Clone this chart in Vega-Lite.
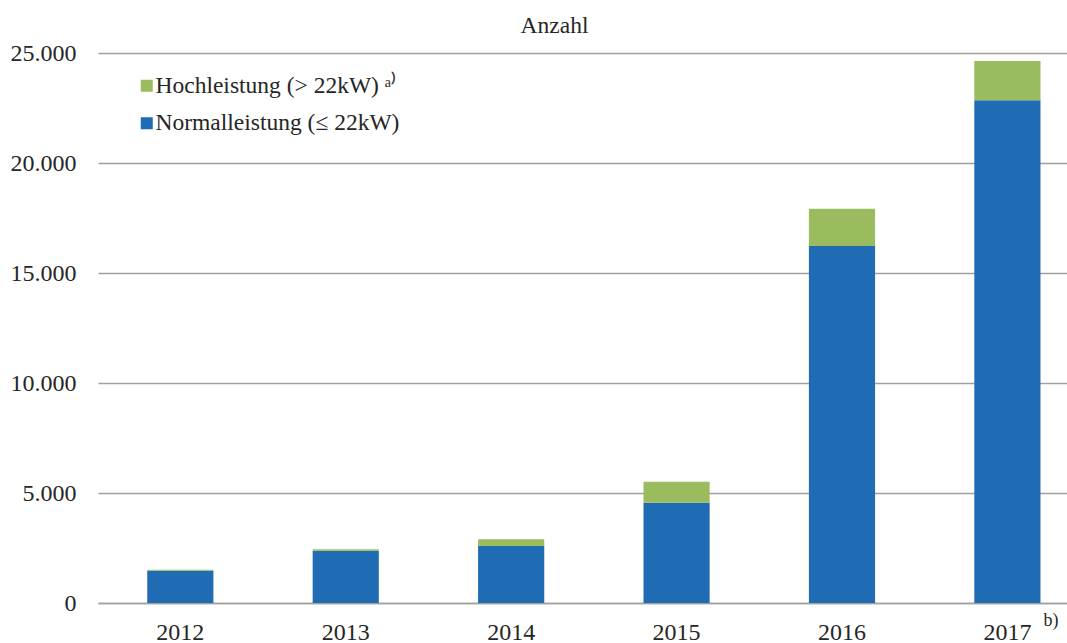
{
  "$schema": "https://vega.github.io/schema/vega-lite/v6.json",
  "width": 969,
  "height": 550,
  "autosize": {"type": "none"},
  "padding": {"left": 98, "top": 53, "right": 0, "bottom": 40},
  "background": "white",
  "title": {
    "text": "Anzahl",
    "font": "Liberation Serif",
    "fontSize": 23.5,
    "fontWeight": "normal",
    "color": "#262626",
    "anchor": "middle",
    "frame": "group",
    "dx": -28,
    "baseline": "alphabetic",
    "offset": -15
  },
  "config": {
    "view": {"stroke": null},
    "font": "Liberation Serif"
  },
  "data": {
    "values": [
      {"Jahr": "2012", "Typ": "Normalleistung (≤ 22kW)", "Anzahl": 1470},
      {"Jahr": "2012", "Typ": "Hochleistung (> 22kW) ᵃ⁾", "Anzahl": 45},
      {"Jahr": "2013", "Typ": "Normalleistung (≤ 22kW)", "Anzahl": 2380},
      {"Jahr": "2013", "Typ": "Hochleistung (> 22kW) ᵃ⁾", "Anzahl": 60},
      {"Jahr": "2014", "Typ": "Normalleistung (≤ 22kW)", "Anzahl": 2590},
      {"Jahr": "2014", "Typ": "Hochleistung (> 22kW) ᵃ⁾", "Anzahl": 305},
      {"Jahr": "2015", "Typ": "Normalleistung (≤ 22kW)", "Anzahl": 4560},
      {"Jahr": "2015", "Typ": "Hochleistung (> 22kW) ᵃ⁾", "Anzahl": 955},
      {"Jahr": "2016", "Typ": "Normalleistung (≤ 22kW)", "Anzahl": 16230},
      {"Jahr": "2016", "Typ": "Hochleistung (> 22kW) ᵃ⁾", "Anzahl": 1695},
      {"Jahr": "2017", "Typ": "Normalleistung (≤ 22kW)", "Anzahl": 22850},
      {"Jahr": "2017", "Typ": "Hochleistung (> 22kW) ᵃ⁾", "Anzahl": 1785}
    ]
  },
  "layer": [
    {
      "mark": {"type": "bar"},
      "encoding": {
        "x": {
          "field": "Jahr",
          "type": "nominal",
          "scale": {"paddingInner": 0.6, "paddingOuter": 0.229, "align": 0.65},
          "axis": {
            "title": null,
            "labelAngle": 0,
            "labelFont": "Liberation Serif",
            "labelFontSize": 24,
            "labelColor": "#262626",
            "labelPadding": 17,
            "ticks": false,
            "domain": true,
            "domainColor": "#A0A0A0",
            "domainWidth": 1.5,
            "grid": false
          }
        },
        "y": {
          "field": "Anzahl",
          "type": "quantitative",
          "stack": "zero",
          "scale": {"domain": [0, 25000], "nice": false},
          "axis": {
            "title": null,
            "values": [0, 5000, 10000, 15000, 20000, 25000],
            "labelExpr": "replace(format(datum.value, ','), ',', '.')",
            "labelFont": "Liberation Serif",
            "labelFontSize": 24,
            "labelColor": "#262626",
            "labelPadding": 22,
            "ticks": false,
            "domain": false,
            "grid": true,
            "gridColor": "#A0A0A0",
            "gridWidth": 1.5
          }
        },
        "color": {
          "field": "Typ",
          "type": "nominal",
          "scale": {
            "domain": ["Hochleistung (> 22kW) ᵃ⁾", "Normalleistung (≤ 22kW)"],
            "range": ["#9BBB5F", "#1F6BB4"]
          },
          "legend": {
            "title": null,
            "orient": "none",
            "legendX": 37,
            "legendY": 21,
            "symbolType": "square",
            "symbolSize": 144,
            "symbolStrokeWidth": 0,
            "labelFont": "Liberation Serif",
            "labelFontSize": 23.5,
            "labelColor": "#262626",
            "labelOffset": -3,
            "rowPadding": 12.5,
            "labelLimit": 400
          }
        },
        "order": {"field": "Typ", "sort": "descending"}
      }
    },
    {
      "data": {"values": [{"Jahr": "2017", "Anzahl": 0, "Notiz": "b)"}]},
      "mark": {
        "type": "text",
        "font": "Liberation Serif",
        "fontSize": 18,
        "color": "#262626",
        "align": "left",
        "baseline": "top",
        "dx": 36,
        "dy": 9
      },
      "encoding": {
        "x": {"field": "Jahr", "type": "nominal"},
        "y": {"field": "Anzahl", "type": "quantitative"},
        "text": {"field": "Notiz"}
      }
    }
  ]
}
